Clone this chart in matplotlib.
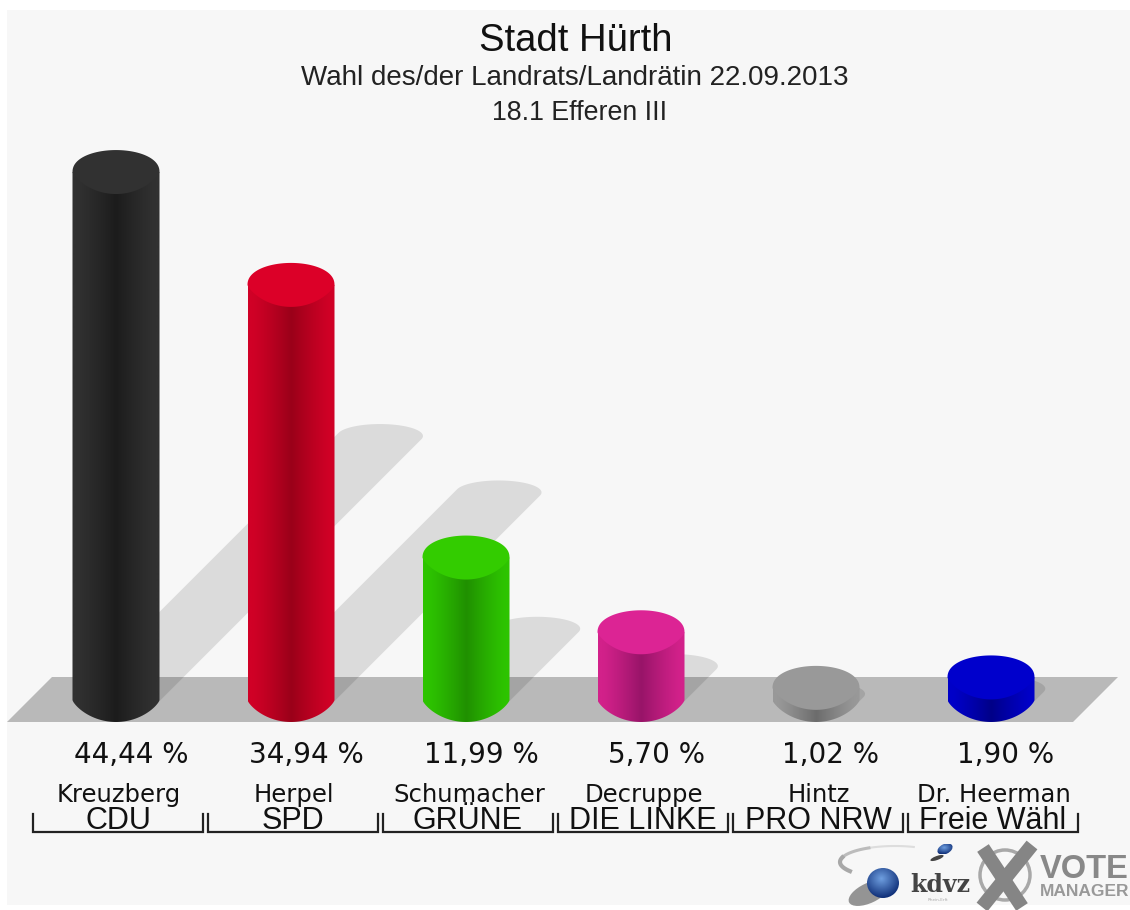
"""
Election result chart for Stadt Huerth with 3D style cylinder bars.
"""

import numpy as np
import matplotlib
matplotlib.use('Agg')
import matplotlib.pyplot as plt
from matplotlib.patches import Ellipse, PathPatch, Polygon, Rectangle
from matplotlib.path import Path

# Data
parties = ['CDU', 'SPD', 'GRÜNE', 'DIE LINKE', 'PRO NRW', 'Freie Wähl']
candidates = ['Kreuzberg', 'Herpel', 'Schumacher', 'Decruppe', 'Hintz', 'Dr. Heerman']
values = [44.44, 34.94, 11.99, 5.70, 1.02, 1.90]
value_labels = ['44,44 %', '34,94 %', '11,99 %', '5,70 %', '1,02 %', '1,90 %']

# Cylinder colours: side edge, side centre, top
edge_colors = ['#313131', '#d00026', '#2dc400', '#d2218a', '#989898', '#0000c8']
center_colors = ['#1c1c1c', '#9a0019', '#209000', '#981468', '#6c6c6c', '#000088']
cap_colors = ['#313131', '#dc0028', '#33cc00', '#dc2494', '#999999', '#0000cc']

W, H = 1130, 910
PX_X = 175.0    # pixels per category
PX_Y = 11.88    # pixels per percent
X0, Y0 = 116.0, 700.0

SANS = 'Liberation Sans'
WIDE = 'DejaVu Sans'


def hex_rgb(c):
    return np.array(matplotlib.colors.to_rgb(c))


def draw_shadow(ax, i, val):
    # Shadow falls up and to the right, half the bar height
    a, b = 43 / PX_X, 12 / PX_Y
    dx, dy = val * PX_Y * 0.5 / PX_X, val * 0.5
    phi = np.arctan2(dy / b, dx / a)
    t1 = np.linspace(phi - np.pi / 2, phi + np.pi / 2, 60)
    t2 = np.linspace(phi + np.pi / 2, phi + 3 * np.pi / 2, 60)
    xs = np.r_[i + dx + a * np.cos(t1), i + a * np.cos(t2)]
    ys = np.r_[dy + b * np.sin(t1), b * np.sin(t2)]
    ax.add_patch(Polygon(np.c_[xs, ys], closed=True, facecolor='black', alpha=0.11,
                         edgecolor='none', zorder=2))


def lower_rim(a, b):
    # Lower edge of the cylinder: flatter than an ellipse, slight corner at the sides
    t = np.linspace(np.pi, 2 * np.pi, 60)
    return a * np.cos(t), -b * np.abs(np.sin(t)) ** 1.5


def draw_bar(ax, i, val, edge, center, cap):
    a, b = 43.5 / PX_X, 22 / PX_Y
    rx, ry = lower_rim(a, b)

    # Outline: straight side, rounded bottom, closed over the top
    xs = np.r_[i - a, i + rx, i + a, i - a]
    ys = np.r_[val, ry, val, val]
    outline = PathPatch(Path(np.c_[xs, ys]), facecolor='none', edgecolor='none', zorder=3)
    ax.add_patch(outline)

    # Side gradient, dark in the middle
    pos = np.linspace(0, 1, 200)
    k = np.clip(1 - np.abs(pos - 0.5) / 0.45, 0, 1) ** 1.2
    k = k[:, None]
    grad = (1 - k) * hex_rgb(edge) + k * hex_rgb(center)
    im = ax.imshow(grad[None, :, :], extent=(i - a, i + a, -b, val), aspect='auto',
                   zorder=3, interpolation='bilinear')
    im.set_clip_path(outline)

    # Top face
    t = np.linspace(0, np.pi, 60)
    cap_x = np.r_[i + a * np.cos(t), i + rx]
    cap_y = np.r_[val + b * np.sin(t) ** 0.9, val + ry]
    ax.add_patch(Polygon(np.c_[cap_x, cap_y], closed=True, facecolor=cap, edgecolor='none', zorder=4))


def draw_logo(bg):
    # Swoosh, light on the right and heavier on the left
    t = np.radians(np.linspace(70, 215, 40))
    sx = 895 + 55 * np.cos(t)
    sy = 862 - 16 * np.sin(t)
    bg.plot(sx[:14], sy[:14], color='#dddddd', lw=1.5, zorder=5)
    bg.plot(sx[13:26], sy[13:26], color='#bcbcbc', lw=2.2, zorder=5)
    bg.plot(sx[25:], sy[25:], color='#a8a8a8', lw=3, zorder=5)

    # Blue spheres with soft shadow
    bg.add_patch(Ellipse((869, 893), 44, 20, angle=-25, facecolor='#444444', alpha=0.55,
                         edgecolor='none', zorder=5))
    for cx, cy, rx, ry, ang in [(883, 883, 16, 15, 0), (945, 849, 8, 5, -25)]:
        circ = Ellipse((cx, cy), 2 * rx, 2 * ry, angle=ang, transform=bg.transData,
                       facecolor='none', edgecolor='none', zorder=6)
        bg.add_patch(circ)
        yy, xx = np.mgrid[-1:1:60j, -1:1:60j]
        r = np.clip(np.hypot(xx + 0.1, yy + 0.3) / 1.3, 0, 1)[:, :, None]
        img = (1 - r) * hex_rgb('#6f9fe0') + r * hex_rgb('#0f2f78')
        im = bg.imshow(img, extent=(cx - rx, cx + rx, cy + ry, cy - ry), aspect='auto', zorder=6)
        im.set_clip_path(circ)
    bg.add_patch(Ellipse((937, 858), 14, 4, angle=-20, facecolor='#444444', edgecolor='none', zorder=5))

    bg.text(940, 885, 'kdvz', family='DejaVu Serif', fontsize=17, fontweight='bold',
            color='#444444', ha='center', va='center', zorder=7)
    bg.text(938, 900, 'Rhein-Erft', fontsize=3, color='#aaaaaa', ha='center', va='center', zorder=7)

    # Grey cross with ring
    bg.add_patch(Ellipse((1005, 875), 50, 50, facecolor='none', edgecolor='#a8a8a8', lw=2.5, zorder=6))
    bg.plot([983, 1022], [848, 907], color='#858585', lw=10, solid_capstyle='butt', zorder=7)
    bg.plot([1032, 982], [845, 907], color='#858585', lw=10, solid_capstyle='butt', zorder=7)

    bg.text(1040, 869, 'VOTE', family=SANS, fontsize=23.5, fontweight='bold', color='#888888',
            ha='left', va='center', zorder=7, clip_on=True)
    bg.text(1040, 892, 'MANAGER', family=SANS, fontsize=12.5, fontweight='bold', color='#999999',
            ha='left', va='center', zorder=7, clip_on=True)


def create_plot():
    fig = plt.figure(figsize=(W / 100, H / 100), dpi=100, facecolor='white')

    # Back axes in pixel units for the floor, texts and logo
    bg = fig.add_axes([0, 0, 1, 1])
    bg.add_patch(Rectangle((7, 10), W - 7, H - 15, facecolor='#f7f7f7', edgecolor='none', zorder=0))
    bg.add_patch(Polygon([(7, 722), (52, 677), (1118, 677), (1073, 722)], closed=True,
                         facecolor='#b9b9b9', edgecolor='none', zorder=1))

    # Front axes with category and percent scales
    ax = fig.add_axes([0, 0, 1, 1])
    ax.patch.set_alpha(0)

    for i, val in enumerate(values):
        draw_shadow(ax, i, val)
    for i, val in enumerate(values):
        draw_bar(ax, i, val, edge_colors[i], center_colors[i], cap_colors[i])

    ax.set_xlim(-X0 / PX_X, (W - X0) / PX_X)
    ax.set_ylim(-(H - Y0) / PX_Y, Y0 / PX_Y)
    ax.axis('off')

    # Titles
    bg.text(576, 41, 'Stadt Hürth', family=SANS, fontsize=27.5, color='#111111', ha='center', va='center')
    bg.text(575, 78, 'Wahl des/der Landrats/Landrätin 22.09.2013', family=SANS, fontsize=20,
            color='#222222', ha='center', va='center')
    bg.text(580, 113, '18.1 Efferen III', family=SANS, fontsize=19.3, color='#222222',
            ha='center', va='center')

    # Labels and brackets under each bar
    for i in range(len(values)):
        cx = X0 + i * PX_X
        bg.text(cx + 15, 755, value_labels[i], family=WIDE, fontsize=20, color='#111111',
                ha='center', va='center')
        bg.text(cx + 3, 795, candidates[i], family=WIDE, fontsize=17.5, color='#111111',
                ha='center', va='center')
        bg.text(cx + 2, 821, parties[i], family=SANS, fontsize=22, color='#111111',
                ha='center', va='center')
        left, right = cx - 83, cx + 87
        bg.plot([left, left, right, right], [814, 832, 832, 814], color='#222222', lw=1.6,
                solid_joinstyle='miter', zorder=3)

    draw_logo(bg)

    bg.set_xlim(0, W)
    bg.set_ylim(H, 0)
    bg.axis('off')

    fig.savefig('out.png', dpi=100, facecolor='white')
    plt.close(fig)


if __name__ == "__main__":
    create_plot()
